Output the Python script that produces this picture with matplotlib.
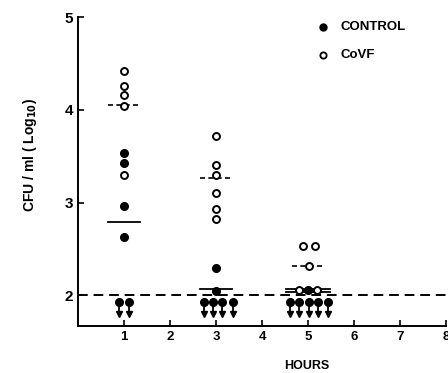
import numpy as np
import matplotlib
matplotlib.use('Agg')
import matplotlib.pyplot as plt

plt.rcParams['font.family'] = ['Liberation Sans', 'DejaVu Sans']
plt.rcParams['font.weight'] = 'bold'

# measured values (log10 CFU/ml)
hours = [1, 3, 5]
control_vals = [[3.54, 3.43, 2.96, 2.63], [2.30, 2.05], [2.06]]
covf_vals = [[4.42, 4.26, 4.16, 4.04, 3.30],
             [3.72, 3.41, 3.30, 3.10, 2.93, 2.82],
             [2.53, 2.53, 2.32, 2.06, 2.06]]
covf_dx = [[0, 0, 0, 0, 0], [0, 0, 0, 0, 0, 0], [-0.12, 0.15, 0.02, -0.19, 0.19]]
control_mean = [2.79, 2.07, 2.04]
covf_mean = [4.05, 3.27, 2.32]
covf_mean2 = [None, None, 2.07]
below_x = [[0.89, 1.11], [2.74, 2.93, 3.12, 3.36], [4.6, 4.81, 5.02, 5.22, 5.43]]
below_y = 1.93
detect = 2.0

fig = plt.figure(figsize=(4.48, 3.73), dpi=100)
ax = fig.add_axes([0.174, 0.126, 0.822, 0.828])

ax.axhline(detect, color='k', lw=1.4, ls=(0, (5, 3)))

for i, h in enumerate(hours):
    # open circles
    xs = [h + d for d in covf_dx[i]]
    ax.plot(xs, covf_vals[i], 'o', ms=5, mfc='white', mec='k', mew=1.4, zorder=4)
    # filled
    ax.plot([h] * len(control_vals[i]), control_vals[i], 'o', ms=5.5, color='k', zorder=4)
    # means
    w = 0.48 if h == 5 else 0.34
    ax.plot([h - w, h + w], [control_mean[i]] * 2, color='k', lw=1.3, zorder=3)
    ax.plot([h - 0.34, h + 0.34], [covf_mean[i]] * 2, color='k', lw=1.2,
            ls=(0, (3, 2)), zorder=3)
    if covf_mean2[i] is not None:
        ax.plot([h - w, h + w], [covf_mean2[i]] * 2, color='k', lw=1.3, zorder=3)
    # below detection limit, with arrows
    for bx in below_x[i]:
        ax.plot([bx, bx], [below_y, below_y - 0.13], color='k', lw=1.3, zorder=3)
        ax.plot(bx, below_y - 0.13, 'v', ms=4.5, color='k', zorder=3)
        ax.plot(bx, below_y, 'o', ms=5.5, color='k', zorder=4)

ax.set_xlim(0, 8)
ax.set_ylim(1.67, 5)
ax.set_xticks(range(1, 9))
ax.set_yticks([2, 3, 4, 5])
ax.tick_params(direction='in', length=4, width=1.2, labelsize=9.5)
ax.tick_params(axis='y', labelsize=11)
for s in ['top', 'right']:
    ax.spines[s].set_visible(False)
for s in ['left', 'bottom']:
    ax.spines[s].set_linewidth(1.4)

fig.text(307 / 448, 1 - 366 / 373, 'HOURS', fontsize=9, fontweight='bold',
         ha='center', va='center')
fig.text(30 / 448, 1 - 155 / 373, 'CFU / ml ( Log$_{\\mathbf{10}}$)', fontsize=10,
         fontweight='bold', rotation=90, ha='center', va='center')

# legend
ax.plot(0.666, 0.968, 'o', ms=5, color='k', transform=ax.transAxes, clip_on=False)
ax.text(0.712, 0.968, 'CONTROL', transform=ax.transAxes, fontsize=9.5,
        fontweight='bold', va='center')
ax.plot(0.666, 0.877, 'o', ms=4.5, mfc='white', mec='k', mew=1.3,
        transform=ax.transAxes, clip_on=False)
ax.text(0.712, 0.877, 'CoVF', transform=ax.transAxes, fontsize=9.5,
        fontweight='bold', va='center')

fig.savefig('out.png', dpi=100)
